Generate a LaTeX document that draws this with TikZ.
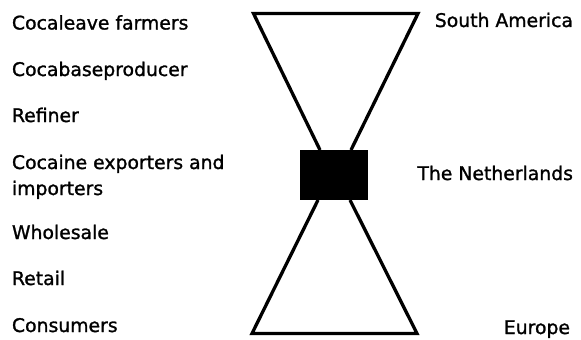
\documentclass[tikz,border=0pt]{standalone}
\usepackage{fontspec}
\setmainfont[FakeBold=1.3]{DejaVu Sans}
\begin{document}
\begin{tikzpicture}[x=1pt,y=-1pt,
  lbl/.style={inner sep=0pt, outer sep=0pt, font=\fontsize{18.8}{26}\selectfont},
  lleft/.style={lbl, anchor=base west, align=left},
  lright/.style={lbl, anchor=base east},
  funnel/.style={line width=3.3pt, line join=miter}]
\useasboundingbox (0,0) rectangle (581,340);
% black block
\node[fill=black, draw=none, minimum width=68pt, minimum height=50pt, inner sep=0pt, anchor=north west] (nl) at (300,150) {};
% funnel corners
\coordinate (tl) at (253.5,13.5);
\coordinate (tr) at (418,13.5);
\coordinate (ml) at (320,150);
\coordinate (mr) at (351,150);
\coordinate (bl) at (318,200);
\coordinate (br) at (350,200);
\coordinate (dl) at (252,333.5);
\coordinate (dr) at (417,333.5);
\draw[funnel] (ml) -- (tl) -- (tr) -- (mr);
\draw[funnel] (bl) -- (dl) -- (dr) -- (br);
% left labels
\node[lleft] (l1) at (12,29.5) {Cocaleave farmers};
\node[lleft] (l2) at (12,76) {Cocabaseproducer};
\node[lleft] (l3) at (12,122) {Refiner};
\node[lleft] (l4) at (12,195) {Cocaine exporters and\\importers};
\node[lleft] (l5) at (12,239) {Wholesale};
\node[lleft] (l6) at (12,285) {Retail};
\node[lleft] (l7) at (12,332) {Consumers};
% right labels
\node[lright] (r1) at (573,27) {South America};
\node[lright] (r2) at (573,180) {The Netherlands};
\node[lright] (r3) at (570,334) {Europe};
\end{tikzpicture}
\end{document}
